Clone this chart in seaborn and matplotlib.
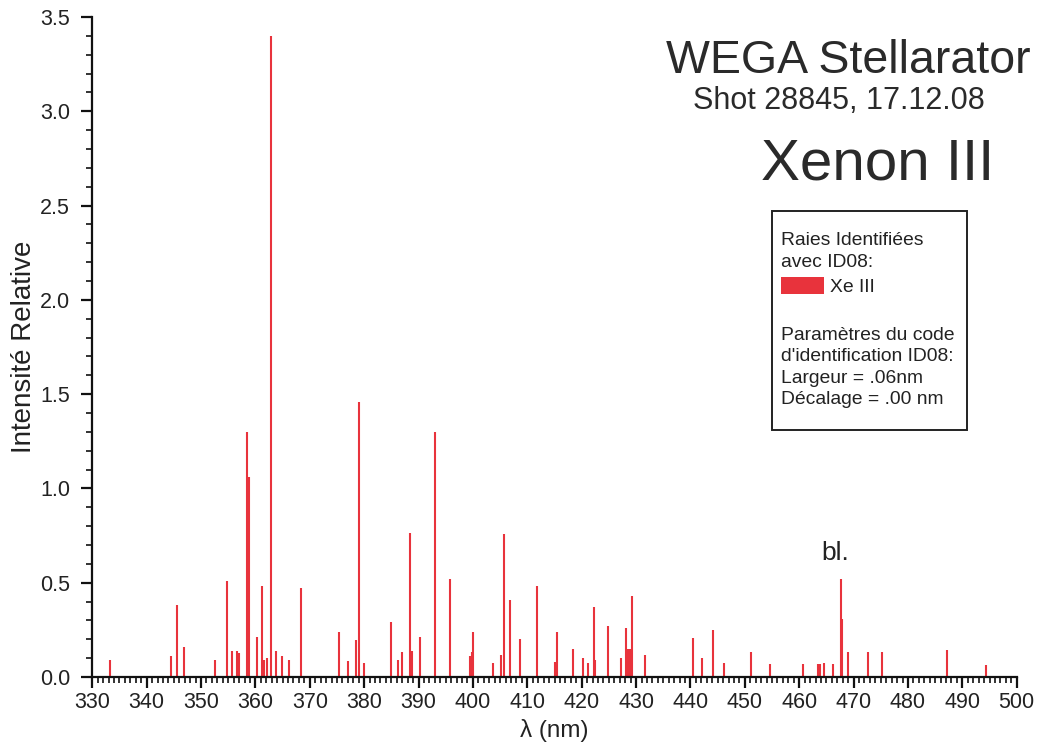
import matplotlib
matplotlib.use("Agg")
import matplotlib.pyplot as plt
import matplotlib.patches as mpatches
from matplotlib.ticker import MultipleLocator
import numpy as np
import pandas as pd
import seaborn as sns

# Identified Xe III emission lines: wavelength (nm) and relative intensity
wavelength_nm = [
    333.2, 344.5, 345.6, 346.9, 352.6, 354.7, 355.7, 356.6, 357.0, 358.5,
    358.8, 360.2, 361.2, 361.5, 362.2, 362.9, 363.8, 364.8, 366.2, 368.4,
    375.3, 377.0, 378.5, 379.0, 380.0, 385.0, 386.2, 386.9, 388.5, 388.8,
    390.3, 393.0, 395.8, 399.4, 399.8, 400.1, 403.7, 405.1, 405.7, 406.8,
    408.7, 411.7, 415.1, 415.4, 418.4, 420.3, 421.2, 422.2, 422.5, 424.9,
    427.2, 428.1, 428.5, 428.8, 429.3, 431.7, 440.4, 442.2, 444.2, 446.2,
    451.2, 454.6, 460.7, 463.5, 463.8, 464.5, 466.2, 467.6, 467.8, 468.9,
    472.7, 475.3, 487.1, 494.4,
]
intensity = [
    0.09, 0.11, 0.38, 0.16, 0.09, 0.51, 0.14, 0.14, 0.125, 1.30,
    1.06, 0.21, 0.48, 0.09, 0.10, 3.40, 0.14, 0.11, 0.09, 0.47,
    0.24, 0.085, 0.195, 1.46, 0.075, 0.29, 0.09, 0.13, 0.765, 0.14,
    0.21, 1.30, 0.52, 0.11, 0.13, 0.24, 0.075, 0.115, 0.76, 0.41,
    0.20, 0.48, 0.08, 0.24, 0.15, 0.10, 0.075, 0.37, 0.09, 0.27,
    0.10, 0.26, 0.15, 0.15, 0.43, 0.115, 0.205, 0.10, 0.25, 0.075,
    0.135, 0.07, 0.07, 0.07, 0.07, 0.075, 0.07, 0.52, 0.31, 0.13,
    0.135, 0.135, 0.145, 0.065,
]

x_ticks = list(range(330, 501, 10))
y_ticks = [0.0, 0.5, 1.0, 1.5, 2.0, 2.5, 3.0, 3.5]

title_lines = ["WEGA Stellarator", "Shot 28845, 17.12.08", "Xenon III"]
legend_header = "Raies Identifiées\navec ID08:"
legend_entry = "Xe III"
legend_params = ("Paramètres du code\nd'identification ID08:\n"
                 "Largeur = .06nm\nDécalage = .00 nm")
blend_note = "bl."
blend_pos = (466.7, 0.62)

line_color = "#e8333c"

lines = pd.DataFrame({"wavelength": wavelength_nm, "intensity": intensity})

sns.set_theme(style="ticks")
plt.rcParams["font.family"] = ["Liberation Sans", "DejaVu Sans"]

W, H = 1041, 744
fig = plt.figure(figsize=(W / 100, H / 100), dpi=100)
fig.patch.set_facecolor("white")
ax = fig.add_axes([92.3 / W, 67 / H, (1016.7 - 92.3) / W, 660 / H])
ax.set_facecolor("white")

ax.vlines(lines["wavelength"], 0, lines["intensity"],
          colors=line_color, linewidth=1.5)

ax.set_xlim(330, 500)
ax.set_ylim(0, 3.5)
ax.set_xticks(x_ticks)
ax.set_yticks(y_ticks)
ax.set_yticklabels([f"{v:.1f}" for v in y_ticks])
ax.xaxis.set_minor_locator(MultipleLocator(1))
ax.yaxis.set_minor_locator(MultipleLocator(0.1))
sns.despine(ax=ax)
for side in ("left", "bottom"):
    ax.spines[side].set_linewidth(1.6)
    ax.spines[side].set_color("#111111")
ax.tick_params(axis="both", which="major", direction="out", length=8,
               width=1.6, color="#111111", labelsize=15.5, labelcolor="#222222")
ax.tick_params(axis="both", which="minor", direction="out", length=4,
               width=1.2, color="#111111")
ax.tick_params(axis="x", which="major", pad=3)
ax.tick_params(axis="y", which="major", pad=8)

ax.set_xlabel("λ (nm)", fontsize=17.5, color="#222222", labelpad=4)
ax.set_ylabel("Intensité Relative", fontsize=20, color="#222222",
              labelpad=2)

ax.text(blend_pos[0], blend_pos[1], blend_note, fontsize=19,
        color="#222222", ha="center", va="baseline")


def fig_xy(px, py):
    return px / W, 1 - py / H


fig.text(*fig_xy(848, 73), title_lines[0], fontsize=33.5, ha="center",
         va="baseline", color="#2a2a2a")
fig.text(*fig_xy(839, 109), title_lines[1], fontsize=22, ha="center",
         va="baseline", color="#2a2a2a")
fig.text(*fig_xy(878, 180), title_lines[2], fontsize=42, ha="center",
         va="baseline", color="#2a2a2a")

# Annotation box describing the identified lines
box = mpatches.Rectangle(fig_xy(772, 430), 195 / W, 219 / H,
                         transform=fig.transFigure, facecolor="white",
                         edgecolor="#222222", linewidth=1.4, zorder=5)
fig.patches.append(box)
fig.text(*fig_xy(781, 245), legend_header.split("\n")[0], fontsize=13.9,
         va="baseline", color="#222222", zorder=6)
fig.text(*fig_xy(781, 267), legend_header.split("\n")[1], fontsize=13.9,
         va="baseline", color="#222222", zorder=6)
swatch = mpatches.Rectangle(fig_xy(781, 294), 43 / W, 17 / H,
                            transform=fig.transFigure, facecolor=line_color,
                            edgecolor="none", zorder=6)
fig.patches.append(swatch)
fig.text(*fig_xy(830, 292), legend_entry, fontsize=13.9, va="baseline",
         color="#222222", zorder=6)
for i, row in enumerate(legend_params.split("\n")):
    fig.text(*fig_xy(781, 340 + i * 21.5), row, fontsize=13.9,
             va="baseline", color="#222222", zorder=6)

fig.savefig("out.png", dpi=100, facecolor="white")
